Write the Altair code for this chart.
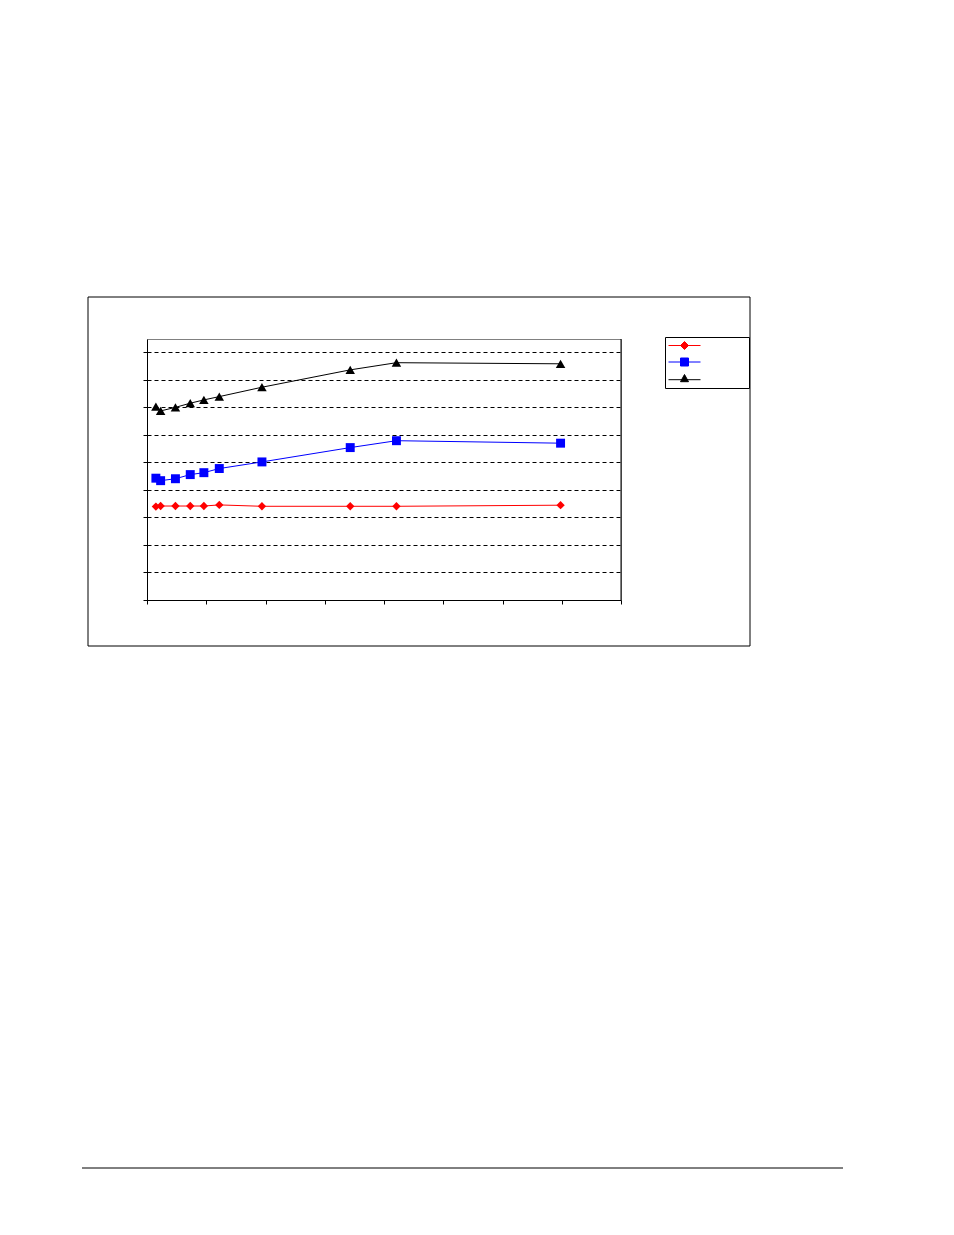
import altair as alt
import pandas as pd

# ---- data ----
x_vals = [0.15, 0.23, 0.48, 0.73, 0.96, 1.22, 1.94, 3.43, 4.21, 6.98]
series_names = ["Series1", "Series2", "Series3"]
red_vals = [3.39, 3.41, 3.41, 3.41, 3.41, 3.45, 3.40, 3.40, 3.40, 3.44]
blue_vals = [4.42, 4.33, 4.40, 4.55, 4.62, 4.77, 5.01, 5.53, 5.78, 5.69]
black_vals = [7.02, 6.86, 6.99, 7.14, 7.26, 7.38, 7.72, 8.35, 8.61, 8.57]
colors = ["#FF0000", "#0000FF", "#000000"]
shapes = ["diamond", "square", "triangle-up"]
marker_sizes = [70, 80, 90]
x_ticks = list(range(0, 9))
y_ticks = list(range(0, 10))

rows = []
for name, vals in zip(series_names, [red_vals, blue_vals, black_vals]):
    for xv, yv in zip(x_vals, vals):
        rows.append({"series": name, "x": xv, "y": yv})
df = pd.DataFrame(rows)

xscale = alt.Scale(domain=[0, 8], nice=False, zero=False)
yscale = alt.Scale(domain=[0, 9.47], nice=False)
xaxis = alt.Axis(values=x_ticks, labels=False, title=None, grid=False, tickSize=4,
                 tickColor="black", domainColor="black")
yaxis = alt.Axis(values=y_ticks, labels=False, title=None, grid=True, gridDash=[4, 3],
                 gridColor="black", gridWidth=1, tickSize=4, tickColor="black",
                 domainColor="black")

layers = []
for i, name in enumerate(series_names):
    sub = df[df.series == name]
    base = alt.Chart(sub).encode(
        x=alt.X("x:Q", scale=xscale, axis=xaxis),
        y=alt.Y("y:Q", scale=yscale, axis=yaxis),
    )
    layers.append(base.mark_line(color=colors[i], strokeWidth=1))
    layers.append(base.mark_point(filled=True, shape=shapes[i], size=marker_sizes[i],
                                  color=colors[i], opacity=1))

# legend-only layer (points clipped away, legend shows line+marker)
leg_paths = [
    "M-4,0H4M0,-1L1,0L0,1L-1,0Z",
    "M-4,0H4M-1,-1H1V1H-1Z",
    "M-4,0.3H4M0,-1L1,0.8L-1,0.8Z",
]
leg_df = pd.DataFrame({"series": series_names, "x": [-5] * 3, "y": [1] * 3})
legend = alt.Legend(title=None, orient="none", legendX=518, legendY=-2,
                    labelExpr="''", labelFontSize=8, strokeColor="black",
                    fillColor="white", padding=4, symbolSize=64,
                    symbolStrokeWidth=1, symbolOffset=11, labelOffset=56,
                    rowPadding=3.5, symbolOpacity=1)
leg_layer = alt.Chart(leg_df).mark_point(filled=True, clip=True, strokeWidth=1, opacity=1).encode(
    x=alt.X("x:Q", scale=xscale, axis=xaxis),
    y=alt.Y("y:Q", scale=yscale, axis=yaxis),
    fill=alt.Fill("series:N", scale=alt.Scale(domain=series_names, range=colors), legend=legend),
    stroke=alt.Stroke("series:N", scale=alt.Scale(domain=series_names, range=colors), legend=legend),
    shape=alt.Shape("series:N", scale=alt.Scale(domain=series_names, range=leg_paths), legend=legend),
)

one = pd.DataFrame({"a": [0]})
frame = alt.Chart(one).mark_rect(fillOpacity=0, stroke="black", strokeWidth=1).encode(
    x=alt.value(-59), x2=alt.value(603), y=alt.value(-42), y2=alt.value(307))
right_border = alt.Chart(one).mark_rule(color="black", strokeWidth=1).encode(
    x=alt.value(474), y=alt.value(0), y2=alt.value(261))
footer = alt.Chart(one).mark_rule(color="black", strokeWidth=1).encode(
    x=alt.value(-65), x2=alt.value(696), y=alt.value(829))

chart = alt.layer(frame, footer, *layers, right_border, leg_layer).properties(
    width=474, height=261,
    padding={"left": 139, "top": 331, "right": 320, "bottom": 620},
    autosize=alt.AutoSizeParams(type="none"),
).configure_view(stroke="#808080")

chart.save("out.html", embed_options={"renderer": "svg", "actions": False})
